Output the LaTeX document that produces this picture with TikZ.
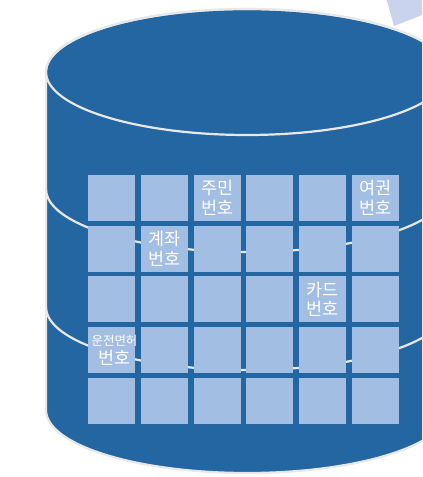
\documentclass[tikz,border=0pt]{standalone}
\usepackage{fontspec}
\newfontfamily\kofont{Noto Sans CJK KR}
\usepackage{tikz}
\usetikzlibrary{positioning}

\definecolor{dbblue}{RGB}{36,102,161}
\definecolor{cellblue}{RGB}{163,190,227}
\definecolor{rimgray}{RGB}{232,232,232}
\definecolor{paleblue}{RGB}{201,212,236}

\begin{document}
\begin{tikzpicture}[
    x=1bp, y=1bp,
    rim/.style={draw=rimgray, line width=2.2bp},
    cell/.style={rectangle, fill=cellblue, minimum width=47bp, minimum height=46bp, inner sep=0pt},
    idtext/.style={text=white, align=center, inner sep=0pt, font=\kofont\fontsize{17.5}{19.5}\selectfont}
]
    \useasboundingbox (0,0) rectangle (422,477);
    \clip (0,0) rectangle (422,477);

    % corner of the shape behind
    \fill[paleblue] (383,490) -- (394,451) -- (440,469) -- (440,490) -- cycle;

    % cylinder
    \filldraw[fill=dbblue, rim] (46,405) -- (46,67) arc (180:360:201 and 63) -- (448,405) arc (0:180:201 and 63) -- cycle;
    \draw[rim] (247,405) ellipse (201 and 63);
    \draw[rim] (46,288) arc (180:360:201 and 63);
    \draw[rim] (46,170) arc (180:360:201 and 63);

    % grid of fields
    \foreach \r in {1,...,5}
        \foreach \c in {1,...,6}
            \node[cell] (cell-\r-\c) at ({111.5+52.8*(\c-1)}, {279-50.75*(\r-1)}) {};

    \node[idtext] (jumin) at (cell-1-3) {주민\\번호};
    \node[idtext] (yeogwon) at (cell-1-6) {여권\\번호};
    \node[idtext] (gyejwa) at (cell-2-2) {계좌\\번호};
    \node[idtext] (kadeu) at (cell-3-5) {카드\\번호};
    \node[idtext, xshift=3bp] (myeonheo) at (cell-4-1) {{\fontsize{12.5}{15.5}\selectfont 운전면허}\\번호};
\end{tikzpicture}
\end{document}
